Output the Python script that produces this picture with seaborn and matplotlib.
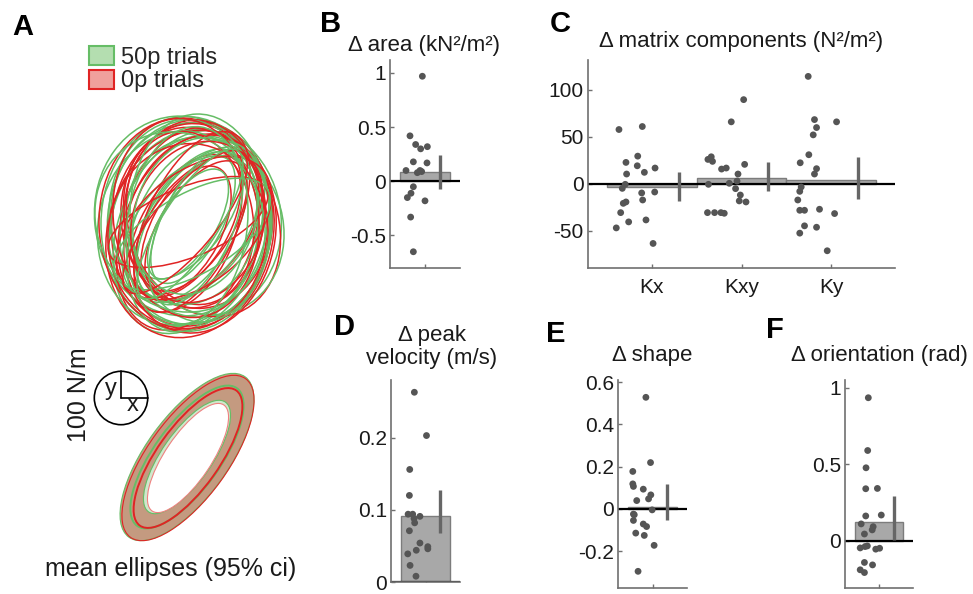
import matplotlib
matplotlib.use('Agg')
import matplotlib.pyplot as plt
import seaborn as sns
import pandas as pd
from matplotlib.patches import Ellipse, Circle, Patch
from matplotlib.ticker import FormatStrFormatter

sns.set_theme(style='white')
plt.rcParams['font.family'] = ['Liberation Sans', 'DejaVu Sans']
plt.rcParams['axes.unicode_minus'] = False

# ---------------- data ----------------
# Panel A: single-trial stiffness ellipses (cx, cy, major, minor, angle)
green_ellipses = [
    (190, 372, 205, 165, 85), (186, 366, 200, 150, 75), (196, 374, 195, 170, 100),
    (188, 362, 210, 140, 70), (200, 370, 175, 100, 55), (182, 378, 200, 175, 95),
    (192, 368, 165, 85, 60), (196, 364, 190, 150, 78), (186, 370, 215, 170, 90),
    (190, 380, 150, 75, 55), (205, 368, 180, 155, 110), (178, 366, 195, 160, 80),
    (193, 374, 140, 60, 62), (198, 358, 200, 130, 68), (184, 382, 185, 150, 88),
    (190, 365, 170, 105, 50), (200, 376, 208, 140, 92), (188, 370, 125, 55, 58),
    (192, 360, 175, 80, 30), (180, 372, 185, 165, 120), (195, 378, 160, 120, 72),
    (187, 368, 200, 120, 82), (190, 370, 175, 55, 57), (196, 366, 165, 72, 66),
]
red_ellipses = [
    (192, 370, 205, 160, 82), (188, 362, 205, 130, 68), (196, 378, 185, 150, 95),
    (185, 368, 160, 85, 58), (202, 372, 195, 150, 112), (190, 360, 210, 165, 75),
    (180, 374, 190, 115, 72), (198, 366, 170, 95, 52), (194, 380, 188, 140, 88),
    (186, 364, 140, 70, 62), (200, 360, 200, 150, 78), (190, 376, 175, 125, 102),
    (183, 370, 212, 168, 92), (196, 368, 150, 70, 56), (192, 372, 195, 90, 65),
    (188, 358, 185, 160, 85), (188, 372, 170, 70, 22), (194, 366, 180, 110, 40),
    (186, 376, 200, 145, 98), (198, 372, 165, 130, 70), (185, 372, 180, 60, 50),
]
# mean ellipses: (cx, cy, major, minor, angle) for mean, ci-outer, ci-inner
green_mean = [(187, 137, 170, 66, 54), (187, 137, 198, 82, 54), (187, 137, 134, 50, 55)]
red_mean = [(188, 136, 166, 62, 54.5), (188, 136, 196, 80, 54), (188, 136, 128, 46, 56)]

# Panel B: delta area
area_x = [0.947, 0.70, 0.813, 0.913, 1.047, 0.767, 1.04, 0.62, 0.847, 0.90, 0.933,
          0.767, 0.72, 0.647, 1.0, 0.713, 0.767]
area_y = [0.97, 0.42, 0.34, 0.30, 0.32, 0.18, 0.17, 0.10, 0.08, 0.10, 0.09,
          -0.05, -0.11, -0.15, -0.18, -0.33, -0.65]
area_mean = [0.09]
area_ci = [(-0.07, 0.24)]

# Panel C: delta matrix components
comp_labels = ['Kx', 'Kxy', 'Ky']
kx_x = [0.635, 0.895, 0.713, 0.844, 0.839, 0.72, 0.918, 1.037, 0.705, 0.672,
        0.683, 0.713, 0.654, 0.888, 0.899, 1.033, 0.743, 0.936, 0.605, 1.015]
kx_y = [57.8, 61.0, 22.7, 29.4, 19.1, 10.3, 12.1, 16.7, -0.7, -5.0,
        -21.0, -19.5, -30.9, -9.9, -17.4, -8.9, -40.8, -38.7, -47.2, -63.8]
kxy_x = [1.626, 1.663, 1.677, 1.632, 1.621, 1.70, 1.771, 1.808, 1.778, 1.830,
         1.886, 1.864, 1.961, 1.950, 1.934, 1.987, 1.975, 2.050, 2.024, 2.035]
kxy_y = [25.9, 28.7, 23.8, -0.7, -30.9, -30.9, -30.9, -31.6, 15.6, 16.7,
         66.0, 0.4, 10.3, 2.8, -5.3, -12.1, -18.4, -19.5, 89.7, 20.6]
ky_x = [2.743, 2.813, 2.836, 2.799, 3.059, 2.750, 2.654, 2.836, 2.813, 2.665,
        2.649, 2.627, 2.649, 2.702, 2.869, 3.037, 2.702, 2.836, 2.649, 2.955]
ky_y = [114.5, 68.4, 59.9, 52.1, 66.0, 30.9, 22.3, 16.0, 10.3, -3.5,
        -8.2, -17.4, -28.4, -28.4, -27.3, -31.9, -45.0, -46.5, -52.8, -71.6]
comp_mean = [-4.0, 6.0, 3.5]
comp_ci = [(-19.0, 12.4), (-7.8, 23.4), (-16.7, 28.7)]

# Panel D: delta peak velocity
vel_x = [0.774, 1.02, 0.68, 0.673, 0.647, 0.74, 0.767, 0.887, 0.78, 0.673,
         0.887, 1.047, 1.047, 0.813, 0.64, 0.687, 0.807]
vel_y = [0.263, 0.203, 0.156, 0.120, 0.094, 0.094, 0.088, 0.091, 0.082, 0.071,
         0.054, 0.049, 0.046, 0.044, 0.039, 0.023, 0.008]
vel_mean = [0.0915]
vel_ci = [(0.0686, 0.127)]

# Panel E: delta shape
shape_x = [0.866, 0.96, 0.60, 0.60, 0.613, 0.813, 0.966, 0.92, 0.68, 0.993,
           0.613, 0.63, 0.613, 0.813, 0.88, 0.66, 0.833, 1.033, 0.707]
shape_y = [0.528, 0.219, 0.177, 0.118, 0.106, 0.093, 0.066, 0.047, 0.039, -0.005,
           -0.025, -0.028, -0.055, -0.072, -0.084, -0.115, -0.126, -0.173, -0.296]
shape_mean = [0.008]
shape_ci = [(-0.055, 0.117)]

# Panel F: delta orientation
ori_x = [0.78, 0.767, 0.733, 0.727, 0.967, 0.727, 1.047, 0.633, 0.88, 0.86,
         0.70, 0.613, 0.713, 0.76, 0.933, 1.013, 0.70, 0.867, 0.613, 0.70]
ori_y = [0.934, 0.589, 0.476, 0.339, 0.341, 0.161, 0.167, 0.109, 0.091, 0.070,
         0.043, -0.048, -0.039, -0.035, -0.056, -0.050, -0.143, -0.159, -0.191, -0.209]
ori_mean = [0.124]
ori_ci = [(0.003, 0.29)]

# ---------------- figure ----------------
W, H = 973, 594
fig = plt.figure(figsize=(W / 100, H / 100), dpi=100)

GREEN = '#66bd66'
RED = '#e02424'
DOT = '#555555'
SPINE = '#707070'
TXT = '#1a1a1a'


def px_axes(l, t, r, b):
    return fig.add_axes([l / W, 1 - b / H, (r - l) / W, (b - t) / H])


# Panel A
axA = fig.add_axes([0, 0, 330 / W, 1])
axA.set_xlim(0, 330)
axA.set_ylim(0, H)
axA.axis('off')
n = max(len(green_ellipses), len(red_ellipses))
for i in range(n):
    if i < len(green_ellipses):
        cx, cy, a, b, ang = green_ellipses[i]
        axA.add_patch(Ellipse((cx, cy), a, b, angle=ang, fill=False, ec=GREEN, lw=1.1))
    if i < len(red_ellipses):
        cx, cy, a, b, ang = red_ellipses[i]
        axA.add_patch(Ellipse((cx, cy), a, b, angle=ang, fill=False, ec=RED, lw=1.1))

# mean ellipses with CI band
g_m, g_o, g_i = green_mean
r_m, r_o, r_i = red_mean
axA.add_patch(Ellipse(g_o[:2], g_o[2], g_o[3], angle=g_o[4], fc='#c49a80', ec=GREEN, lw=0.8))
axA.add_patch(Ellipse(r_o[:2], r_o[2], r_o[3], angle=r_o[4], fc='none', ec=RED, lw=0.8))
axA.add_patch(Ellipse(g_i[:2], g_i[2], g_i[3], angle=g_i[4], fc='#cfe8cc', ec=GREEN, lw=0.8))
axA.add_patch(Ellipse(r_i[:2], r_i[2], r_i[3], angle=r_i[4], fc='white', ec='#f08080', lw=0.8))
axA.add_patch(Ellipse(g_m[:2], g_m[2], g_m[3], angle=g_m[4], fc='none', ec=GREEN, lw=1.4))
axA.add_patch(Ellipse(r_m[:2], r_m[2], r_m[3], angle=r_m[4], fc='none', ec=RED, lw=1.4))

# scale compass
axA.add_patch(Circle((121, H - 398), 26.7, fill=False, ec='black', lw=1.2))
axA.plot([121, 121], [H - 398 + 26.7, H - 398], color='black', lw=1.2)
axA.plot([121, 147.7], [H - 398, H - 398], color='black', lw=1.2)
axA.text(111, H - 389, 'y', fontsize=17, ha='center', va='center', color=TXT)
axA.text(133, H - 405, 'x', fontsize=17, ha='center', va='center', color=TXT)
axA.text(79, H - 395, '100 N/m', fontsize=18, rotation=90, ha='center', va='center', color=TXT)
axA.text(171, H - 569, 'mean ellipses (95% ci)', fontsize=18, ha='center', va='center', color=TXT)

handles = [Patch(facecolor='#b4deb0', edgecolor=GREEN, lw=1.5, label='50p trials'),
           Patch(facecolor='#f0a09c', edgecolor=RED, lw=1.5, label='0p trials')]
axA.legend(handles=handles, loc='upper left', bbox_to_anchor=(89 / 330, 1 - 46 / H),
           frameon=False, fontsize=17, borderpad=0, borderaxespad=0,
           handlelength=1.05, handleheight=0.85, handletextpad=0.3, labelspacing=0.05)


def bar_panel(ax, positions, xs, ys, means, cis, xlim, ylim, yticks, xticklabels=None):
    ax.bar(positions, means, width=1.0, color='#a8a8a8', edgecolor='#7c7c7c', lw=1.0, zorder=2)
    ax.axhline(0, color='black', lw=1.6, zorder=2.5)
    df = pd.DataFrame({'x': xs, 'y': ys})
    sns.scatterplot(data=df, x='x', y='y', ax=ax, color=DOT, s=24, edgecolor='none',
                    zorder=3, legend=False)
    for p, (lo, hi) in zip(positions, cis):
        ax.plot([p + 0.3, p + 0.3], [lo, hi], color='#666666', lw=2.4, zorder=4,
                solid_capstyle='butt')
    ax.set_xlim(*xlim)
    ax.set_ylim(*ylim)
    ax.set_yticks(yticks)
    ax.yaxis.set_major_formatter(FormatStrFormatter('%g'))
    ax.set_xticks(positions)
    ax.set_xticklabels(xticklabels if xticklabels else [''] * len(positions))
    ax.set_xlabel('')
    ax.set_ylabel('')
    sns.despine(ax=ax)
    for s in ('left', 'bottom'):
        ax.spines[s].set_color(SPINE)
        ax.spines[s].set_linewidth(1.2)
    ax.tick_params(axis='both', which='both', direction='in', length=3, width=1,
                   color=SPINE, labelsize=15, labelcolor=TXT, left=True, bottom=True)
    ax.tick_params(axis='y', pad=3)
    ax.tick_params(axis='x', pad=7)
    ax.set_facecolor('none')


axB = px_axes(390, 60, 460, 268)
bar_panel(axB, [1], area_x, area_y, area_mean, area_ci, (0.3, 1.7), (-0.8, 1.12),
          [-0.5, 0, 0.5, 1])

axC = px_axes(588, 60, 895, 268)
bar_panel(axC, [1, 2, 3], kx_x + kxy_x + ky_x, kx_y + kxy_y + ky_y, comp_mean, comp_ci,
          (0.29, 3.71), (-90, 132), [-50, 0, 50, 100], comp_labels)

axD = px_axes(391, 380, 460, 582)
bar_panel(axD, [1], vel_x, vel_y, vel_mean, vel_ci, (0.3, 1.7), (0, 0.28), [0, 0.1, 0.2])

axE = px_axes(618, 380, 687, 588)
bar_panel(axE, [1], shape_x, shape_y, shape_mean, shape_ci, (0.3, 1.7), (-0.375, 0.61),
          [-0.2, 0, 0.2, 0.4, 0.6])

axF = px_axes(845, 380, 913, 588)
bar_panel(axF, [1], ori_x, ori_y, ori_mean, ori_ci, (0.3, 1.7), (-0.31, 1.05), [0, 0.5, 1])


def ftext(x, y, s, **kw):
    fig.text(x / W, 1 - y / H, s, ha='center', va='center', color=TXT, **kw)


ftext(424, 45, 'Δ area (kN²/m²)', fontsize=16)
ftext(741, 42, 'Δ matrix components (N²/m²)', fontsize=16)
ftext(432, 347, 'Δ peak\nvelocity (m/s)', fontsize=16, linespacing=1.1, multialignment='center')
ftext(652, 355, 'Δ shape', fontsize=16)
ftext(879, 355, 'Δ orientation (rad)', fontsize=16)

for letter, x, y in [('A', 23, 27), ('B', 331, 24), ('C', 560, 24),
                     ('D', 345, 327), ('E', 556, 334), ('F', 775, 330)]:
    fig.text(x / W, 1 - y / H, letter, fontsize=21, fontweight='bold', ha='center',
             va='center', color='black')

fig.savefig('out.png', dpi=100)
